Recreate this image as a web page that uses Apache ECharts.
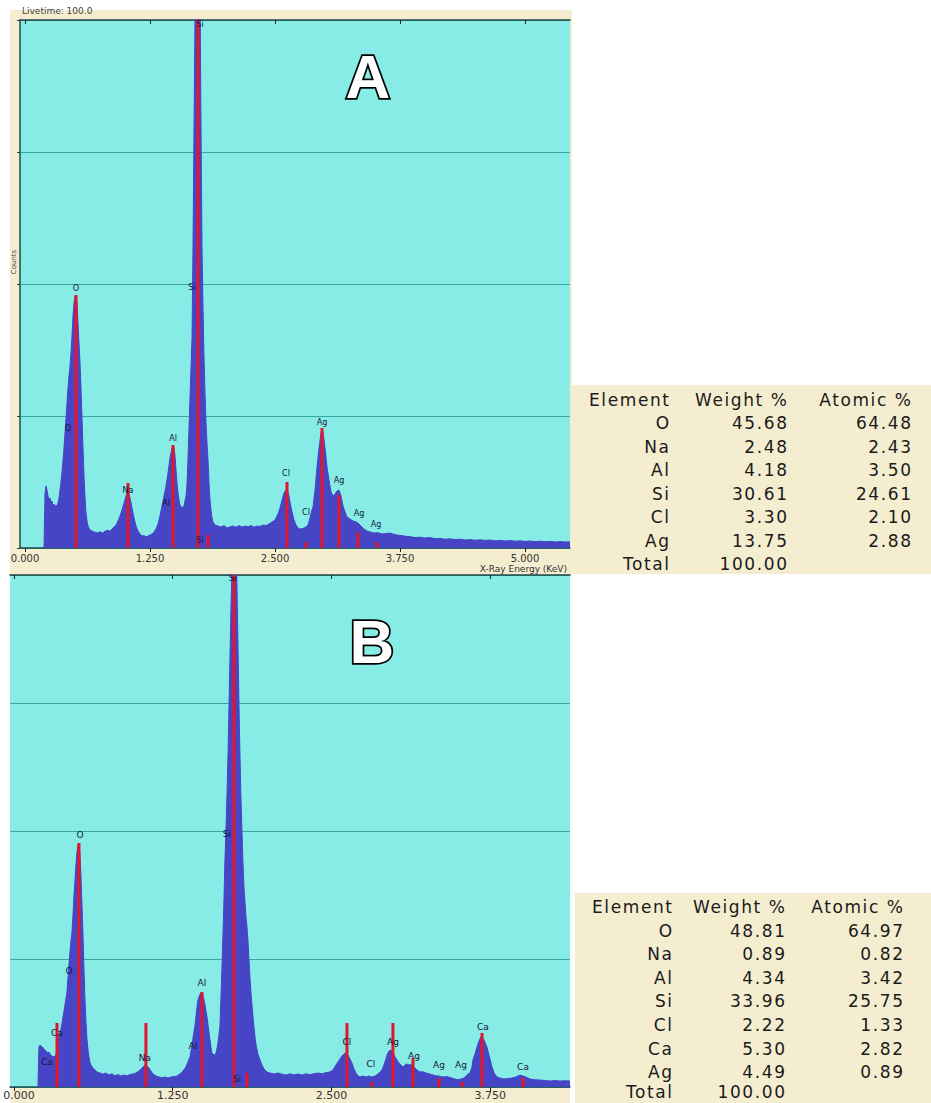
<!DOCTYPE html>
<html><head><meta charset="utf-8">
<script src="https://cdn.jsdelivr.net/npm/echarts@6/dist/echarts.min.js"></script>
<style>
html,body{margin:0;padding:0;background:#fff;}
.cream{position:absolute;background:#f5edd0;}
#chart{position:absolute;left:0;top:0;width:931px;height:1103px;}
.tbl{position:absolute;background:#f5edd0;font-family:"DejaVu Sans";font-size:17px;color:#1a1a1a;letter-spacing:1.6px;z-index:5;}
.tbl div{position:absolute;white-space:nowrap;line-height:20px;height:20px;}
</style></head><body>
<div class="cream" style="left:10px;top:10px;width:562px;height:565px"></div>
<div class="cream" style="left:10px;top:1087px;width:560px;height:16px"></div>
<div id="chart"></div>
<div id="tA" class="tbl" style="left:571px;top:385px;width:360px;height:189px"></div>
<div id="tB" class="tbl" style="left:575px;top:893px;width:356px;height:210px"></div>
<script>
// ---------- DATA ----------
const ticksA = [0, 1.25, 2.5, 3.75, 5.0];
const ticksB = [0, 1.25, 2.5, 3.75];

// Spectrum A: [energy keV, counts]
const spectrumA = [
[0.19,0],[0.20,275],[0.21,310],[0.22,290],[0.23,260],[0.24,240],[0.25,250],[0.26,225],[0.27,235],[0.28,210],[0.29,220],[0.30,205],[0.31,215],[0.32,210],[0.33,225],[0.34,250],[0.35,290],[0.36,330],[0.37,380],[0.38,440],[0.39,500],[0.40,575],[0.41,650],[0.42,725],[0.43,800],[0.44,860],[0.45,910],[0.46,975],[0.47,1060],[0.48,1160],[0.49,1225],[0.50,1260],[0.51,1265],[0.52,1225],[0.53,1125],[0.54,1025],[0.55,925],[0.56,800],[0.57,650],[0.58,500],[0.59,360],[0.60,250],[0.61,175],[0.62,135],[0.63,110],[0.64,100],[0.65,90],[0.67,85],[0.69,80],[0.71,78],[0.73,75],[0.75,82],[0.77,74],[0.79,80],[0.81,86],[0.83,88],[0.85,84],[0.87,95],[0.89,105],[0.91,115],[0.93,135],[0.95,160],[0.97,190],[0.99,225],[1.01,260],[1.02,275],[1.03,280],[1.04,270],[1.05,250],[1.07,200],[1.09,150],[1.11,110],[1.13,85],[1.15,70],[1.17,60],[1.19,62],[1.21,55],[1.23,60],[1.25,65],[1.27,70],[1.29,80],[1.31,95],[1.33,120],[1.35,160],[1.37,210],[1.39,260],[1.41,310],[1.43,375],[1.45,450],[1.47,500],[1.48,515],[1.49,500],[1.50,460],[1.51,390],[1.52,325],[1.53,275],[1.54,240],[1.55,215],[1.57,200],[1.59,210],[1.61,260],[1.62,320],[1.63,450],[1.64,600],[1.65,750],[1.66,900],[1.67,1050],[1.68,1500],[1.69,2100],[1.70,2650],[1.71,2800],[1.72,2900],[1.73,2950],[1.74,2900],[1.75,2800],[1.76,2100],[1.77,1500],[1.78,1200],[1.79,950],[1.80,775],[1.81,625],[1.82,525],[1.83,440],[1.84,325],[1.85,240],[1.86,190],[1.87,150],[1.88,130],[1.90,115],[1.93,110],[1.96,105],[1.99,112],[2.02,100],[2.05,106],[2.08,110],[2.11,104],[2.14,112],[2.17,105],[2.20,110],[2.23,106],[2.26,112],[2.29,104],[2.32,110],[2.35,108],[2.38,115],[2.41,112],[2.44,120],[2.47,130],[2.50,140],[2.53,170],[2.55,200],[2.57,240],[2.59,275],[2.61,290],[2.62,292],[2.63,280],[2.64,260],[2.65,230],[2.67,180],[2.69,140],[2.71,115],[2.73,100],[2.75,95],[2.77,96],[2.79,100],[2.81,105],[2.83,115],[2.85,150],[2.87,190],[2.88,205],[2.90,290],[2.92,405],[2.94,500],[2.96,575],[2.97,590],[2.98,580],[3.00,500],[3.02,405],[3.04,340],[3.06,280],[3.08,260],[3.10,270],[3.12,285],[3.14,290],[3.16,260],[3.18,210],[3.20,180],[3.22,155],[3.25,145],[3.28,135],[3.31,130],[3.33,125],[3.36,110],[3.39,95],[3.42,85],[3.45,80],[3.49,75],[3.53,76],[3.57,70],[3.61,72],[3.65,75],[3.69,68],[3.73,64],[3.77,62],[3.81,58],[3.85,57],[3.90,52],[3.95,54],[4.00,50],[4.05,52],[4.10,47],[4.15,48],[4.20,44],[4.25,46],[4.30,42],[4.35,44],[4.40,40],[4.45,42],[4.50,39],[4.55,41],[4.60,38],[4.65,40],[4.70,36],[4.75,38],[4.80,35],[4.85,37],[4.90,34],[4.95,36],[5.00,33],[5.05,35],[5.10,32],[5.15,34],[5.20,31],[5.25,33],[5.30,30],[5.35,32],[5.40,30],[5.45,31]
];

// Spectrum B: [energy keV, counts]
const spectrumB = [
[0.189,0],[0.197,200],[0.205,210],[0.213,205],[0.220,200],[0.228,198],[0.236,190],[0.244,185],[0.252,180],[0.260,175],[0.268,170],[0.276,175],[0.283,165],[0.291,160],[0.299,155],[0.307,150],[0.315,155],[0.323,150],[0.331,165],[0.339,190],[0.346,220],[0.354,250],[0.362,270],[0.370,290],[0.378,315],[0.386,350],[0.394,380],[0.402,410],[0.409,440],[0.417,470],[0.425,540],[0.433,610],[0.441,675],[0.449,730],[0.457,775],[0.465,860],[0.472,950],[0.480,1025],[0.488,1110],[0.496,1170],[0.504,1210],[0.512,1220],[0.520,1160],[0.528,1050],[0.535,925],[0.543,775],[0.551,600],[0.559,440],[0.567,325],[0.575,240],[0.583,185],[0.591,150],[0.598,125],[0.606,110],[0.622,95],[0.638,85],[0.654,75],[0.677,70],[0.701,64],[0.724,70],[0.748,60],[0.772,66],[0.795,56],[0.819,62],[0.843,55],[0.866,60],[0.890,56],[0.913,62],[0.937,65],[0.961,70],[0.984,80],[1.000,90],[1.016,100],[1.031,110],[1.047,105],[1.063,95],[1.079,80],[1.094,65],[1.118,55],[1.142,50],[1.165,46],[1.189,50],[1.213,45],[1.236,50],[1.260,52],[1.283,55],[1.307,65],[1.331,80],[1.354,100],[1.370,125],[1.386,150],[1.402,210],[1.417,275],[1.425,305],[1.433,350],[1.441,400],[1.449,435],[1.465,465],[1.480,475],[1.488,460],[1.504,410],[1.520,350],[1.535,275],[1.551,200],[1.559,170],[1.567,165],[1.575,160],[1.583,162],[1.591,170],[1.598,190],[1.606,220],[1.614,260],[1.622,305],[1.630,450],[1.638,600],[1.646,770],[1.654,950],[1.661,1125],[1.669,1285],[1.677,1450],[1.685,1650],[1.693,1900],[1.701,2150],[1.709,2400],[1.717,2600],[1.724,2700],[1.732,2800],[1.740,2800],[1.748,2700],[1.756,2500],[1.764,2200],[1.772,1900],[1.780,1650],[1.787,1450],[1.795,1285],[1.803,1125],[1.811,1000],[1.819,925],[1.827,850],[1.835,800],[1.843,725],[1.850,640],[1.858,550],[1.866,475],[1.874,410],[1.882,350],[1.890,300],[1.898,250],[1.906,210],[1.921,165],[1.937,135],[1.953,110],[1.969,90],[1.992,75],[2.016,70],[2.047,65],[2.079,70],[2.110,64],[2.142,60],[2.173,66],[2.205,60],[2.236,65],[2.268,60],[2.299,66],[2.331,62],[2.362,66],[2.394,70],[2.425,66],[2.457,72],[2.488,75],[2.512,85],[2.535,110],[2.551,125],[2.567,140],[2.583,155],[2.598,165],[2.614,170],[2.630,160],[2.646,140],[2.661,120],[2.677,90],[2.701,60],[2.724,50],[2.748,55],[2.772,50],[2.795,55],[2.819,50],[2.843,55],[2.866,65],[2.882,75],[2.898,85],[2.913,110],[2.929,140],[2.937,160],[2.953,180],[2.969,185],[2.984,175],[3.000,150],[3.016,135],[3.031,120],[3.047,110],[3.063,100],[3.079,110],[3.094,115],[3.110,110],[3.126,112],[3.142,105],[3.157,95],[3.173,85],[3.197,75],[3.220,76],[3.244,70],[3.268,66],[3.299,60],[3.323,56],[3.346,55],[3.378,50],[3.409,52],[3.441,46],[3.472,40],[3.496,36],[3.520,40],[3.543,45],[3.559,55],[3.575,65],[3.591,70],[3.606,100],[3.614,135],[3.630,165],[3.646,200],[3.661,230],[3.677,250],[3.685,250],[3.701,235],[3.717,210],[3.724,200],[3.740,160],[3.764,100],[3.780,70],[3.803,50],[3.827,45],[3.858,40],[3.890,42],[3.921,45],[3.953,50],[3.984,60],[4.008,55],[4.031,50],[4.063,40],[4.102,36],[4.142,35],[4.181,32],[4.220,30],[4.260,32],[4.299,30],[4.339,31],[4.378,30]
];

// Element marker lines: [energy keV, counts]
const markersA = [[0.51,1265],[1.03,325],[1.48,515],[1.73,2640],[1.83,65],[2.62,330],[2.81,30],[2.97,600],[3.14,265],[3.33,80],[3.52,30]];
const markersB = [[0.339,320],[0.512,1220],[1.039,320],[1.480,475],[1.732,2560],[1.835,70],[2.622,320],[2.819,25],[2.984,320],[3.142,145],[3.346,45],[3.528,25],[3.685,270],[4.008,45]];

// Element labels: [energy keV, counts, text]
const labelsA = [[0.51,1300,'O'],[0.43,600,'O'],[1.03,290,'Na'],[1.48,550,'Al'],[1.41,225,'Al'],[1.67,1305,'Si'],[1.75,2620,'Si'],[1.75,40,'Si'],[2.61,375,'Cl'],[2.81,180,'Cl'],[2.97,630,'Ag'],[3.14,340,'Ag'],[3.34,175,'Ag'],[3.51,120,'Ag']];
const labelsB = [[0.339,270,'Ca'],[0.260,125,'Ca'],[0.520,1260,'O'],[0.433,580,'O'],[1.031,145,'Na'],[1.480,520,'Al'],[1.409,205,'Al'],[1.677,1265,'Si'],[1.724,2545,'Si'],[1.756,40,'Si'],[2.622,225,'Cl'],[2.811,115,'Cl'],[2.984,225,'Ag'],[3.150,155,'Ag'],[3.346,110,'Ag'],[3.520,110,'Ag'],[3.693,300,'Ca'],[4.008,100,'Ca']];

// Quantification tables
const tableElementsA = ['O','Na','Al','Si','Cl','Ag'];
const tableWeightA = [45.68,2.48,4.18,30.61,3.30,13.75];
const tableAtomicA = [64.48,2.43,3.50,24.61,2.10,2.88];
const totalA = 100.00;
const tableElementsB = ['O','Na','Al','Si','Cl','Ca','Ag'];
const tableWeightB = [48.81,0.89,4.34,33.96,2.22,5.30,4.49];
const tableAtomicB = [64.97,0.82,3.42,25.75,1.33,2.82,0.89];
const totalB = 100.00;
const tableHeader = ['Element','Weight %','Atomic %'];

// ---------- TABLES ----------
function buildTable(id, els, wt, at, total, rights, top0, step, lastNudge) {
  const box = document.getElementById(id);
  const W = box.clientWidth;
  const rows = [tableHeader].concat(els.map((e,i)=>[e, wt[i].toFixed(2), at[i].toFixed(2)])).concat([['Total', total.toFixed(2), '']]);
  rows.forEach((r, ri) => {
    r.forEach((t, ci) => {
      if (!t) return;
      const d = document.createElement('div');
      d.textContent = t;
      d.style.right = (W - rights[ci] - 1.6) + 'px';
      d.style.top = (top0 + ri * step - (ri === rows.length - 1 ? lastNudge : 0)) + 'px';
      box.appendChild(d);
    });
  });
}
buildTable('tA', tableElementsA, tableWeightA, tableAtomicA, totalA, [98, 216, 340], 5, 23.45, 0);
buildTable('tB', tableElementsB, tableWeightB, tableAtomicB, totalB, [97, 210, 328], 4, 23.6, 3.5);

// ---------- CHART ----------
const specColor = '#4545c6';
const markColor = '#e3172b';
const gridColor = '#38a9a2';
const axisDark = '#1f4a4a';
const plotBg = '#87ece6';

function markerRender(params, api) {
  const x = api.value(0), h = api.value(1);
  const p0 = api.coord([x, 0]);
  const p1 = api.coord([x, h]);
  return { type: 'rect', shape: { x: p0[0] - 1.5, y: p1[1], width: 3, height: p0[1] - p1[1] }, style: { fill: markColor } };
}
function labelRender(list, size) {
  return function (params, api) {
    const p = api.coord([api.value(0), api.value(1)]);
    return { type: 'text', x: p[0], y: p[1], style: { text: list[params.dataIndex][2], x: 0, y: 0, align: 'center', verticalAlign: 'middle', textAlign: 'center', textVerticalAlign: 'middle', font: size + 'px "DejaVu Sans"', fill: '#15153a' } };
  };
}

function xBottom(gi, min, max, ticks, fs, margin, zeroPad) {
  return { gridIndex: gi, type: 'value', min: min, max: max, position: 'bottom',
    axisLine: { show: true, onZero: false, lineStyle: { color: axisDark, width: 1.5 } },
    axisTick: { show: true, customValues: ticks, length: 4, lineStyle: { color: '#222' } },
    axisLabel: { show: true, customValues: ticks,
      formatter: v => (v === 0 && zeroPad) ? '{z|' + v.toFixed(3) + '}' : v.toFixed(3),
      rich: { z: { padding: [0, 0, 0, zeroPad || 0], fontSize: fs, color: '#333', fontFamily: 'DejaVu Sans' } },
      fontSize: fs, color: '#333', margin: margin, fontFamily: 'DejaVu Sans', hideOverlap: false },
    splitLine: { show: false } };
}
function xTop(gi, min, max, ticks) {
  return { gridIndex: gi, type: 'value', min: min, max: max, position: 'top',
    axisLine: { show: true, onZero: false, lineStyle: { color: axisDark, width: 1.5 } },
    axisTick: { show: true, inside: true, customValues: ticks, length: 4, lineStyle: { color: '#222' } },
    axisLabel: { show: false }, splitLine: { show: false } };
}

const chart = echarts.init(document.getElementById('chart'), null, { renderer: 'svg' });
chart.setOption({
  animation: false,
  backgroundColor: 'transparent',
  grid: [
    { left: 20, top: 20, width: 550, height: 528, show: true, backgroundColor: plotBg, borderWidth: 0, containLabel: false, outerBoundsMode: 'none' },
    { left: 10, top: 575, width: 560, height: 512, show: true, backgroundColor: plotBg, borderWidth: 0, containLabel: false, outerBoundsMode: 'none' }
  ],
  xAxis: [
    xBottom(0, -0.05, 5.45, ticksA, 10, 5, 0),
    xTop(0, -0.05, 5.45, ticksA),
    xBottom(1, -0.031, 4.378, ticksB, 11, 3, 10),
    xTop(1, -0.031, 4.378, ticksB)
  ],
  yAxis: [
    { gridIndex: 0, type: 'value', min: 0, max: 2640, interval: 660,
      axisLine: { show: true, onZero: false, lineStyle: { color: axisDark, width: 1.5 } },
      axisTick: { show: true, length: 3, lineStyle: { color: axisDark } },
      axisLabel: { show: false }, splitLine: { show: true, lineStyle: { color: gridColor, width: 1 } } },
    { gridIndex: 1, type: 'value', min: 0, max: 2560, interval: 640,
      axisLine: { show: false, onZero: false }, axisTick: { show: false },
      axisLabel: { show: false }, splitLine: { show: true, lineStyle: { color: gridColor, width: 1 } } }
  ],
  series: [
    { type: 'line', xAxisIndex: 0, yAxisIndex: 0, data: spectrumA, showSymbol: false, symbol: 'none', clip: true, silent: true, z: 3,
      lineStyle: { color: specColor, width: 1 }, areaStyle: { color: specColor, opacity: 1 } },
    { type: 'custom', xAxisIndex: 0, yAxisIndex: 0, data: markersA, renderItem: markerRender, clip: true, silent: true, z: 4, encode: { x: 0, y: 1 } },
    { type: 'custom', xAxisIndex: 0, yAxisIndex: 0, data: labelsA.map(d => [d[0], d[1]]), renderItem: labelRender(labelsA, 8), clip: true, silent: true, z: 5, encode: { x: 0, y: 1 } },
    { type: 'line', xAxisIndex: 2, yAxisIndex: 1, data: spectrumB, showSymbol: false, symbol: 'none', clip: true, silent: true, z: 3,
      lineStyle: { color: specColor, width: 1 }, areaStyle: { color: specColor, opacity: 1 } },
    { type: 'custom', xAxisIndex: 2, yAxisIndex: 1, data: markersB, renderItem: markerRender, clip: true, silent: true, z: 4, encode: { x: 0, y: 1 } },
    { type: 'custom', xAxisIndex: 2, yAxisIndex: 1, data: labelsB.map(d => [d[0], d[1]]), renderItem: labelRender(labelsB, 9), clip: true, silent: true, z: 5, encode: { x: 0, y: 1 } }
  ],
  graphic: [
    { type: 'text', x: 22, y: 11, z: 50, style: { text: 'Livetime: 100.0', font: '9px "DejaVu Sans"', fill: '#444', align: 'left', verticalAlign: 'middle', textAlign: 'left', textVerticalAlign: 'middle' } },
    { type: 'text', x: 14, y: 262, rotation: Math.PI / 2, z: 50, style: { text: 'Counts', font: '7px "DejaVu Sans"', fill: '#444', align: 'center', verticalAlign: 'middle', textAlign: 'center', textVerticalAlign: 'middle' } },
    { type: 'text', x: 567, y: 569, z: 50, style: { text: 'X-Ray Energy (KeV)', font: '9px "DejaVu Sans"', fill: '#333', align: 'right', verticalAlign: 'middle', textAlign: 'right', textVerticalAlign: 'middle' } },
    { type: 'text', x: 368, y: 76, z: 60, style: { text: 'A', font: 'bold 62px "Liberation Sans"', fill: '#ffffff', stroke: '#000000', lineWidth: 3.5, align: 'center', verticalAlign: 'middle', textAlign: 'center', textVerticalAlign: 'middle' } },
    { type: 'text', x: 372, y: 641, z: 60, style: { text: 'B', font: 'bold 62px "Liberation Sans"', fill: '#ffffff', stroke: '#000000', lineWidth: 3.5, align: 'center', verticalAlign: 'middle', textAlign: 'center', textVerticalAlign: 'middle' } }
  ]
});
</script>
</body></html>
